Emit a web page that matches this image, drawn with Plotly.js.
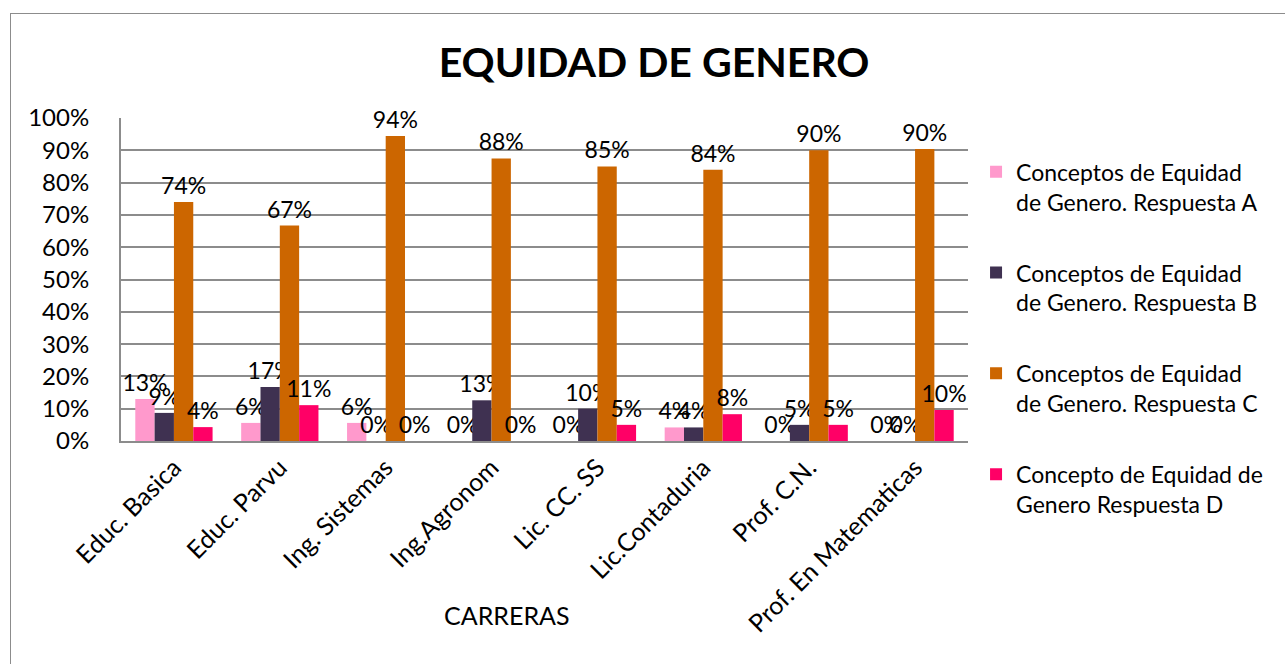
<!DOCTYPE html>
<html>
<head>
<meta charset="utf-8">
<script src="https://cdn.plot.ly/plotly-3.0.1.min.js"></script>
<style>
  html, body { margin: 0; padding: 0; background: #fff; }
  #wrap { position: relative; width: 1285px; height: 664px; overflow: hidden; }
  #chart { width: 1285px; height: 664px; }
  #frame { position: absolute; left: 10px; top: 13px; width: 1300px; height: 700px;
           border: 1.5px solid #8c8c8c; pointer-events: none; }
</style>
</head>
<body>
<div id="wrap">
  <div id="chart"></div>
  <div id="frame"></div>
</div>
<script>
const categories = ["Educ. Basica", "Educ. Parvu", "Ing. Sistemas", "Ing.Agronom",
                    "Lic. CC. SS", "Lic.Contaduria", "Prof. C.N.", "Prof. En Matematicas"];
const seriesNames = [
  "Conceptos de Equidad<br>de Genero. Respuesta A",
  "Conceptos de Equidad<br>de Genero. Respuesta B",
  "Conceptos de Equidad<br>de Genero. Respuesta C",
  "Concepto de Equidad de<br>Genero Respuesta D"
];
const respuestaA = [0.13, 0.056, 0.056, 0, 0, 0.042, 0, 0];
const respuestaB = [0.087, 0.167, 0, 0.126, 0.10, 0.042, 0.05, 0];
const respuestaC = [0.74, 0.667, 0.944, 0.875, 0.85, 0.84, 0.90, 0.904];
const respuestaD = [0.043, 0.111, 0, 0, 0.05, 0.083, 0.05, 0.096];
const colors = ["#FF99CC", "#3F3151", "#CC6600", "#FF0066"];

const FONT = "Lato, sans-serif";
const allSeries = [respuestaA, respuestaB, respuestaC, respuestaD];

const traces = allSeries.map((vals, i) => ({
  type: "bar",
  x: categories,
  y: vals,
  name: seriesNames[i],
  legendgroup: "g" + i,
  marker: { color: colors[i], line: { width: 0 } },
  texttemplate: "%{y:.0%}",
  textposition: "outside",
  constraintext: "none",
  cliponaxis: false,
  textfont: { family: FONT, size: 23, color: "#000" },
  hoverinfo: "x+y"
}));

const layout = {
  width: 1285, height: 664,
  margin: { l: 121, r: 317, t: 118, b: 223 },
  paper_bgcolor: "#fff", plot_bgcolor: "#fff",
  font: { family: FONT, size: 24, color: "#000" },
  title: {
    text: "<b>EQUIDAD DE GENERO</b>",
    font: { family: FONT, size: 41, color: "#000" },
    x: 0.509, xref: "container", xanchor: "center",
    y: 0.905, yref: "container", yanchor: "middle"
  },
  barmode: "group",
  bargap: 0.27,
  bargroupgap: 0,
  xaxis: {
    type: "category",
    tickangle: -45,
    tickfont: { family: FONT, size: 25, color: "#000" },
    showline: true, linecolor: "#8c8c8c", linewidth: 2,
    showgrid: false, ticks: "", zeroline: false
  },
  yaxis: {
    range: [0, 1],
    dtick: 0.1,
    tickformat: ".0%",
    tickfont: { family: FONT, size: 24, color: "#000" },
    showline: true, linecolor: "#8c8c8c", linewidth: 2,
    showgrid: true, gridcolor: "#8c8c8c", gridwidth: 1.5,
    zeroline: false, ticks: "", ticklabelstandoff: 25
  },
  legend: {
    x: 1.0095, xanchor: "left",
    y: 0.9, yanchor: "top",
    traceorder: "grouped",
    tracegroupgap: 38,
    valign: "top",
    maxheight: 620,
    font: { family: FONT, size: 23, color: "#000" },
    itemwidth: 30
  },
  annotations: [{
    text: "CARRERAS",
    xref: "paper", yref: "paper",
    x: 0.456, y: -0.54, xanchor: "center", yanchor: "middle",
    showarrow: false,
    font: { family: FONT, size: 25, color: "#000" }
  }],
  showlegend: true
};

Plotly.newPlot("chart", traces, layout, { displayModeBar: false, responsive: false });
</script>
</body>
</html>
